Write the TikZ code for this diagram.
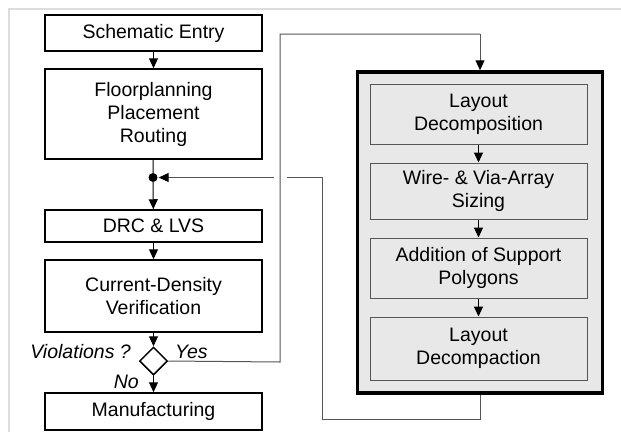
\documentclass[tikz,border=0pt]{standalone}
\usepackage{fontspec}
\setmainfont{Liberation Sans}
\usetikzlibrary{arrows.meta,shapes.geometric}
\definecolor{framegray}{HTML}{DDDDDD}
\definecolor{boxfill}{HTML}{E8E8E8}
\definecolor{linegray}{HTML}{555555}
\tikzset{
  lbox/.style={draw=black, line width=1.5pt, rectangle, align=center, minimum width=217pt, inner sep=0pt},
  ibox/.style={draw=linegray, line width=1pt, fill=boxfill, rectangle, align=center, minimum width=217pt, inner sep=0pt},
  arr/.style={-{Triangle[length=10pt,width=9pt]}, line width=1pt},
  fbarr/.style={-{Triangle[length=10pt,width=9pt,color=black]}, draw=linegray, line width=1pt},
  fb/.style={draw=linegray, line width=1pt},
  lbl/.style={font=\itshape\fontsize{19.5}{22}\selectfont, inner sep=0pt}
}
\begin{document}
\begin{tikzpicture}[x=1pt,y=-1pt, every node/.append style={font=\fontsize{19.5}{23}\selectfont}]
\useasboundingbox (0,0) rectangle (621,432);
% light frame
\draw[framegray, line width=2pt] (9,432) -- (9,8.5) -- (621,8.5);

% left column
\node[lbox, minimum height=36pt] (sch) at (153.5,33) {Schematic Entry};
\node[lbox, minimum height=90pt] (fpr) at (153.5,114) {Floorplanning\\Placement\\Routing};
\node[lbox, minimum height=32pt] (drc) at (153.5,226) {DRC \& LVS};
\node[lbox, minimum height=72pt] (cdv) at (153.5,296) {Current-Density\\Verification};
\node[lbox, minimum height=37pt] (man) at (153.5,411.5) {Manufacturing};
\node[draw, line width=1.5pt, diamond, minimum width=28pt, minimum height=28pt, inner sep=0pt, fill=white] (dia) at (153.5,361) {};
\node[circle, fill=black, inner sep=0pt, minimum size=9pt] (dot) at (153,177.5) {};

% right block
\node[draw=black, line width=3.5pt, fill=boxfill, minimum width=245pt, minimum height=321pt, inner sep=0pt] (big) at (480,232.5) {};
\node[ibox, minimum height=60pt] (ld) at (478.5,114) {Layout\\Decomposition};
\node[ibox, minimum height=56pt] (ws) at (478.5,191) {Wire- \& Via-Array\\Sizing};
\node[ibox, minimum height=60pt] (ap) at (478.5,268) {Addition of Support\\Polygons};
\node[ibox, minimum height=63pt] (dc) at (478.5,348.5) {Layout\\Decompaction};

% labels
\node[lbl, anchor=east] (viol) at (131,352) {Violations ?};
\node[lbl, anchor=west] (yes) at (175,352) {Yes};
\node[lbl, anchor=east] (no) at (139,382) {No};

% left arrows
\draw[arr] (sch) -- (fpr);
\draw[line width=1pt] (fpr) -- (dot);
\draw[arr] (dot) -- (drc);
\draw[arr] (drc) -- (cdv);
\draw[arr] (cdv) -- (dia.north);
\draw[arr] (dia.south) -- (man);

% inner arrows
\draw[arr] (ld) -- (ws);
\draw[arr] (ws) -- (ap);
\draw[arr] (ap) -- (dc);

% feedback from big box to dot (with crossing gap)
\coordinate (c1) at (322,419);
\coordinate (g1) at (287,177.5);
\coordinate (g2) at (274,177.5);
\draw[fb] (big.south) |- (c1) |- (g1);
\draw[fbarr, shorten >=1pt] (g2) -- (dot);

% Yes path to big box
\coordinate (y1) at (280,362);
\coordinate (y2) at (280,34);
\coordinate (y3) at (480,34);
\draw[fb] (dia.east) -- (y1) -- (y2) -- (y3);
\draw[fbarr] (y3) -- (big.north);
\end{tikzpicture}
\end{document}
